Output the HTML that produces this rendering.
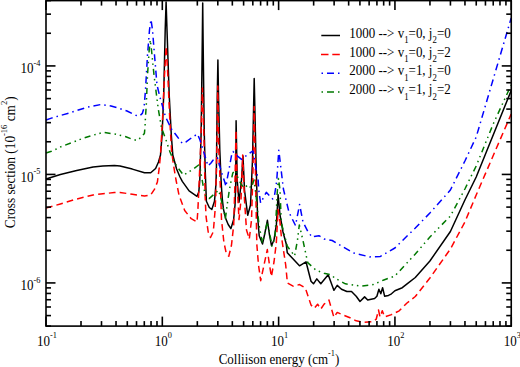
<!DOCTYPE html>
<html><head><meta charset="utf-8"><style>
html,body{margin:0;padding:0;background:#fff;}
body{width:520px;height:367px;overflow:hidden;font-family:"Liberation Serif",serif;}
svg{display:block;}
</style></head><body>
<svg width="520" height="367" viewBox="0 0 520 367">
<g fill="none" stroke-linejoin="round" stroke-width="1.5">
<polyline points="46.0,179.0 60.4,174.5 76.7,170.5 93.1,166.9 102.9,165.9 114.4,165.5 120.0,166.0 132.3,169.1 144.5,172.8 150.7,172.8 155.6,168.5 158.5,162.0 160.5,155.0 162.1,135.0 163.7,95.0 165.2,30.0 166.1,2.0 167.0,30.0 169.2,95.0 171.3,135.0 172.8,155.0 176.6,169.0 180.0,177.0 182.3,181.4 189.1,190.9 197.0,196.3 198.8,192.0 199.8,180.0 201.2,130.0 202.3,40.0 202.7,3.0 203.1,40.0 204.2,130.0 205.2,170.0 206.4,201.3 209.3,207.5 211.8,209.5 214.5,201.3 215.9,185.0 216.4,170.0 217.2,100.0 217.9,60.0 218.6,100.0 219.8,150.0 221.3,185.0 222.4,200.0 223.4,208.8 225.4,217.7 228.2,224.5 230.9,228.6 233.6,219.7 235.0,205.4 235.7,185.0 236.1,120.7 237.2,180.0 239.0,202.2 241.5,180.0 243.0,156.0 244.5,190.0 247.7,215.2 250.5,205.0 252.5,160.0 254.2,78.5 256.0,160.0 257.5,215.0 259.2,235.8 262.5,244.0 264.5,235.0 267.4,220.3 269.5,235.0 271.5,245.7 274.0,240.0 276.4,224.4 278.1,194.8 280.0,215.0 283.0,232.0 286.2,243.8 287.3,252.8 299.5,265.8 306.0,261.8 311.0,281.3 313.5,283.8 316.8,278.9 320.8,283.8 328.2,274.8 333.9,290.3 337.2,285.4 341.5,289.2 346.9,291.5 351.5,291.5 356.2,296.2 360.0,301.5 364.6,296.9 367.7,300.0 374.6,298.5 376.9,296.2 378.9,289.2 380.8,293.8 382.6,287.7 384.6,296.2 388.5,295.4 391.5,293.8 394.9,290.8 402.3,287.7 407.4,283.7 415.3,277.5 429.9,261.0 450.4,231.5 464.9,200.0 476.2,177.0 511.2,90.6" stroke="#000000"/>
<polyline points="46.0,208.1 60.4,204.0 76.7,199.0 93.1,195.0 102.9,193.7 114.4,192.6 120.0,192.4 132.3,194.3 144.5,196.1 150.7,194.9 154.4,189.4 157.4,182.0 159.3,167.3 160.5,155.0 162.5,120.0 164.5,75.0 166.2,46.5 167.8,75.0 169.8,120.0 171.5,150.0 173.5,165.0 176.0,180.0 179.0,195.0 184.7,210.5 191.2,218.7 197.0,222.0 197.8,211.3 198.6,195.0 200.5,150.0 202.4,88.0 204.3,150.0 205.1,195.0 206.0,216.2 208.4,233.4 210.5,237.5 213.3,231.8 215.0,211.3 215.8,195.0 216.8,150.0 217.8,86.0 218.8,150.0 220.7,195.0 221.5,219.5 223.9,242.4 226.4,253.8 228.8,256.2 231.5,245.0 233.7,225.0 235.0,180.0 236.0,130.0 237.0,180.0 239.0,219.6 241.0,200.0 242.7,155.0 244.5,200.0 246.5,230.0 249.3,239.0 251.5,220.0 253.0,170.0 254.2,106.5 255.4,170.0 256.8,244.0 258.5,265.0 260.7,280.7 264.0,265.0 267.3,249.6 269.5,265.0 271.4,276.6 274.0,262.0 276.3,243.0 278.1,209.5 280.0,222.0 281.2,235.0 285.7,265.0 287.4,283.0 293.1,286.2 299.6,284.6 305.3,287.9 311.0,305.0 314.3,308.3 317.6,304.2 320.8,309.1 324.1,304.2 329.0,300.1 333.9,317.3 337.2,312.4 342.3,314.6 350.0,317.7 356.2,320.8 363.8,322.3 373.1,321.5 376.2,319.2 378.5,310.0 380.0,316.9 382.3,310.8 384.6,316.9 391.5,314.6 394.9,313.0 399.2,310.8 407.0,303.0 415.3,296.5 429.9,278.0 450.4,249.0 464.9,222.0 476.2,195.0 511.2,114.0" stroke="#ff0000" stroke-dasharray="6.7 4.1"/>
<polyline points="46.0,120.0 51.4,118.1 68.5,113.2 86.9,107.3 101.0,104.5 111.0,106.0 119.6,108.5 127.0,111.0 135.6,115.2 139.5,116.2 142.3,113.4 144.0,108.0 145.5,90.0 147.5,55.0 149.5,30.0 151.0,19.5 152.5,30.0 154.5,55.0 157.0,85.0 159.9,97.0 165.6,117.0 171.9,129.9 175.7,134.5 182.3,143.4 186.4,141.7 192.9,136.8 197.5,134.0 199.9,139.8 204.0,152.9 208.0,166.0 211.0,163.0 213.0,160.2 217.5,157.8 220.4,168.4 222.2,174.5 224.7,181.8 226.0,186.5 227.1,179.4 229.0,169.6 231.4,156.1 233.0,151.5 237.5,156.1 241.6,159.4 245.7,156.1 250.7,152.3 253.0,151.0 254.5,160.0 256.4,171.0 258.1,179.2 258.7,189.6 260.6,203.0 266.3,192.3 272.7,199.0 274.5,195.6 276.7,181.0 278.8,150.3 283.4,189.0 289.0,212.3 295.5,225.5 299.6,204.5 303.0,222.0 308.3,232.4 312.4,237.3 314.2,236.4 318.9,235.7 324.0,238.9 332.2,240.5 353.4,252.9 369.8,256.9 380.4,256.4 394.9,248.0 415.3,228.0 429.9,213.0 450.4,190.0 464.9,161.0 476.2,137.0 511.2,18.0" stroke="#0000ff" stroke-dasharray="7 4 1.5 4"/>
<polyline points="46.0,153.0 51.4,151.3 61.8,146.4 74.7,141.5 83.3,138.2 95.5,134.5 103.5,132.3 116.0,134.3 125.9,136.7 131.3,138.9 136.8,140.5 140.6,137.8 144.4,133.4 145.0,127.4 145.5,116.5 146.3,105.0 147.5,75.0 149.2,50.0 150.3,40.0 151.5,50.0 154.0,75.0 156.5,95.0 158.3,109.2 161.5,127.7 166.0,140.0 170.0,152.0 173.0,159.3 176.8,166.4 183.6,175.2 187.7,172.5 193.2,169.1 198.6,165.0 200.5,170.0 203.0,185.0 206.0,197.0 209.1,198.6 215.2,193.2 218.6,190.4 220.7,197.3 224.1,212.2 225.4,218.4 227.5,202.7 229.5,189.1 230.9,182.0 232.7,173.3 235.0,170.0 238.0,178.0 241.0,184.0 244.1,188.0 248.2,184.7 251.0,188.0 254.0,180.0 256.0,195.0 259.0,225.0 262.4,243.1 265.0,232.0 267.4,222.0 270.0,235.0 272.0,246.0 275.0,238.0 277.3,191.5 278.5,178.4 280.0,190.0 281.3,222.6 287.3,246.2 294.6,256.0 297.5,240.0 299.3,225.0 301.0,232.0 302.8,239.7 307.7,262.6 315.8,270.0 324.0,273.2 331.4,274.8 334.6,278.0 345.4,283.8 360.8,286.2 373.1,284.6 383.8,280.0 394.9,276.0 415.3,254.0 429.9,237.0 450.4,216.0 464.9,189.0 476.2,166.0 493.2,124.0 511.2,85.0" stroke="#007800" stroke-dasharray="6 4 1.5 3.8 1.5 4"/>
</g>
<g stroke="#000" stroke-width="1.6" fill="none">
<rect x="46.0" y="0.6" width="465.25" height="325.5"/>
<line x1="46.00" y1="326.1" x2="46.00" y2="316.6"/>
<line x1="46.00" y1="0.6" x2="46.00" y2="10.1"/>
<line x1="81.01" y1="326.1" x2="81.01" y2="321.1"/>
<line x1="81.01" y1="0.6" x2="81.01" y2="5.6"/>
<line x1="101.50" y1="326.1" x2="101.50" y2="321.1"/>
<line x1="101.50" y1="0.6" x2="101.50" y2="5.6"/>
<line x1="116.03" y1="326.1" x2="116.03" y2="321.1"/>
<line x1="116.03" y1="0.6" x2="116.03" y2="5.6"/>
<line x1="127.30" y1="326.1" x2="127.30" y2="321.1"/>
<line x1="127.30" y1="0.6" x2="127.30" y2="5.6"/>
<line x1="136.51" y1="326.1" x2="136.51" y2="321.1"/>
<line x1="136.51" y1="0.6" x2="136.51" y2="5.6"/>
<line x1="144.30" y1="326.1" x2="144.30" y2="321.1"/>
<line x1="144.30" y1="0.6" x2="144.30" y2="5.6"/>
<line x1="151.04" y1="326.1" x2="151.04" y2="321.1"/>
<line x1="151.04" y1="0.6" x2="151.04" y2="5.6"/>
<line x1="156.99" y1="326.1" x2="156.99" y2="321.1"/>
<line x1="156.99" y1="0.6" x2="156.99" y2="5.6"/>
<line x1="162.31" y1="326.1" x2="162.31" y2="316.6"/>
<line x1="162.31" y1="0.6" x2="162.31" y2="10.1"/>
<line x1="197.33" y1="326.1" x2="197.33" y2="321.1"/>
<line x1="197.33" y1="0.6" x2="197.33" y2="5.6"/>
<line x1="217.81" y1="326.1" x2="217.81" y2="321.1"/>
<line x1="217.81" y1="0.6" x2="217.81" y2="5.6"/>
<line x1="232.34" y1="326.1" x2="232.34" y2="321.1"/>
<line x1="232.34" y1="0.6" x2="232.34" y2="5.6"/>
<line x1="243.61" y1="326.1" x2="243.61" y2="321.1"/>
<line x1="243.61" y1="0.6" x2="243.61" y2="5.6"/>
<line x1="252.82" y1="326.1" x2="252.82" y2="321.1"/>
<line x1="252.82" y1="0.6" x2="252.82" y2="5.6"/>
<line x1="260.61" y1="326.1" x2="260.61" y2="321.1"/>
<line x1="260.61" y1="0.6" x2="260.61" y2="5.6"/>
<line x1="267.35" y1="326.1" x2="267.35" y2="321.1"/>
<line x1="267.35" y1="0.6" x2="267.35" y2="5.6"/>
<line x1="273.30" y1="326.1" x2="273.30" y2="321.1"/>
<line x1="273.30" y1="0.6" x2="273.30" y2="5.6"/>
<line x1="278.62" y1="326.1" x2="278.62" y2="316.6"/>
<line x1="278.62" y1="0.6" x2="278.62" y2="10.1"/>
<line x1="313.64" y1="326.1" x2="313.64" y2="321.1"/>
<line x1="313.64" y1="0.6" x2="313.64" y2="5.6"/>
<line x1="334.12" y1="326.1" x2="334.12" y2="321.1"/>
<line x1="334.12" y1="0.6" x2="334.12" y2="5.6"/>
<line x1="348.65" y1="326.1" x2="348.65" y2="321.1"/>
<line x1="348.65" y1="0.6" x2="348.65" y2="5.6"/>
<line x1="359.92" y1="326.1" x2="359.92" y2="321.1"/>
<line x1="359.92" y1="0.6" x2="359.92" y2="5.6"/>
<line x1="369.13" y1="326.1" x2="369.13" y2="321.1"/>
<line x1="369.13" y1="0.6" x2="369.13" y2="5.6"/>
<line x1="376.92" y1="326.1" x2="376.92" y2="321.1"/>
<line x1="376.92" y1="0.6" x2="376.92" y2="5.6"/>
<line x1="383.67" y1="326.1" x2="383.67" y2="321.1"/>
<line x1="383.67" y1="0.6" x2="383.67" y2="5.6"/>
<line x1="389.62" y1="326.1" x2="389.62" y2="321.1"/>
<line x1="389.62" y1="0.6" x2="389.62" y2="5.6"/>
<line x1="394.94" y1="326.1" x2="394.94" y2="316.6"/>
<line x1="394.94" y1="0.6" x2="394.94" y2="10.1"/>
<line x1="429.95" y1="326.1" x2="429.95" y2="321.1"/>
<line x1="429.95" y1="0.6" x2="429.95" y2="5.6"/>
<line x1="450.43" y1="326.1" x2="450.43" y2="321.1"/>
<line x1="450.43" y1="0.6" x2="450.43" y2="5.6"/>
<line x1="464.96" y1="326.1" x2="464.96" y2="321.1"/>
<line x1="464.96" y1="0.6" x2="464.96" y2="5.6"/>
<line x1="476.24" y1="326.1" x2="476.24" y2="321.1"/>
<line x1="476.24" y1="0.6" x2="476.24" y2="5.6"/>
<line x1="485.45" y1="326.1" x2="485.45" y2="321.1"/>
<line x1="485.45" y1="0.6" x2="485.45" y2="5.6"/>
<line x1="493.23" y1="326.1" x2="493.23" y2="321.1"/>
<line x1="493.23" y1="0.6" x2="493.23" y2="5.6"/>
<line x1="499.98" y1="326.1" x2="499.98" y2="321.1"/>
<line x1="499.98" y1="0.6" x2="499.98" y2="5.6"/>
<line x1="505.93" y1="326.1" x2="505.93" y2="321.1"/>
<line x1="505.93" y1="0.6" x2="505.93" y2="5.6"/>
<line x1="511.25" y1="326.1" x2="511.25" y2="316.6"/>
<line x1="511.25" y1="0.6" x2="511.25" y2="10.1"/>
<line x1="46.0" y1="326.10" x2="51.0" y2="326.10"/>
<line x1="511.25" y1="326.10" x2="506.25" y2="326.10"/>
<line x1="46.0" y1="315.59" x2="51.0" y2="315.59"/>
<line x1="511.25" y1="315.59" x2="506.25" y2="315.59"/>
<line x1="46.0" y1="306.99" x2="51.0" y2="306.99"/>
<line x1="511.25" y1="306.99" x2="506.25" y2="306.99"/>
<line x1="46.0" y1="299.73" x2="51.0" y2="299.73"/>
<line x1="511.25" y1="299.73" x2="506.25" y2="299.73"/>
<line x1="46.0" y1="293.44" x2="51.0" y2="293.44"/>
<line x1="511.25" y1="293.44" x2="506.25" y2="293.44"/>
<line x1="46.0" y1="287.89" x2="51.0" y2="287.89"/>
<line x1="511.25" y1="287.89" x2="506.25" y2="287.89"/>
<line x1="46.0" y1="282.92" x2="55.5" y2="282.92"/>
<line x1="511.25" y1="282.92" x2="501.75" y2="282.92"/>
<line x1="46.0" y1="250.26" x2="51.0" y2="250.26"/>
<line x1="511.25" y1="250.26" x2="506.25" y2="250.26"/>
<line x1="46.0" y1="231.16" x2="51.0" y2="231.16"/>
<line x1="511.25" y1="231.16" x2="506.25" y2="231.16"/>
<line x1="46.0" y1="217.60" x2="51.0" y2="217.60"/>
<line x1="511.25" y1="217.60" x2="506.25" y2="217.60"/>
<line x1="46.0" y1="207.09" x2="51.0" y2="207.09"/>
<line x1="511.25" y1="207.09" x2="506.25" y2="207.09"/>
<line x1="46.0" y1="198.49" x2="51.0" y2="198.49"/>
<line x1="511.25" y1="198.49" x2="506.25" y2="198.49"/>
<line x1="46.0" y1="191.23" x2="51.0" y2="191.23"/>
<line x1="511.25" y1="191.23" x2="506.25" y2="191.23"/>
<line x1="46.0" y1="184.94" x2="51.0" y2="184.94"/>
<line x1="511.25" y1="184.94" x2="506.25" y2="184.94"/>
<line x1="46.0" y1="179.39" x2="51.0" y2="179.39"/>
<line x1="511.25" y1="179.39" x2="506.25" y2="179.39"/>
<line x1="46.0" y1="174.42" x2="55.5" y2="174.42"/>
<line x1="511.25" y1="174.42" x2="501.75" y2="174.42"/>
<line x1="46.0" y1="141.76" x2="51.0" y2="141.76"/>
<line x1="511.25" y1="141.76" x2="506.25" y2="141.76"/>
<line x1="46.0" y1="122.66" x2="51.0" y2="122.66"/>
<line x1="511.25" y1="122.66" x2="506.25" y2="122.66"/>
<line x1="46.0" y1="109.10" x2="51.0" y2="109.10"/>
<line x1="511.25" y1="109.10" x2="506.25" y2="109.10"/>
<line x1="46.0" y1="98.59" x2="51.0" y2="98.59"/>
<line x1="511.25" y1="98.59" x2="506.25" y2="98.59"/>
<line x1="46.0" y1="89.99" x2="51.0" y2="89.99"/>
<line x1="511.25" y1="89.99" x2="506.25" y2="89.99"/>
<line x1="46.0" y1="82.73" x2="51.0" y2="82.73"/>
<line x1="511.25" y1="82.73" x2="506.25" y2="82.73"/>
<line x1="46.0" y1="76.44" x2="51.0" y2="76.44"/>
<line x1="511.25" y1="76.44" x2="506.25" y2="76.44"/>
<line x1="46.0" y1="70.89" x2="51.0" y2="70.89"/>
<line x1="511.25" y1="70.89" x2="506.25" y2="70.89"/>
<line x1="46.0" y1="65.92" x2="55.5" y2="65.92"/>
<line x1="511.25" y1="65.92" x2="501.75" y2="65.92"/>
<line x1="46.0" y1="33.26" x2="51.0" y2="33.26"/>
<line x1="511.25" y1="33.26" x2="506.25" y2="33.26"/>
<line x1="46.0" y1="14.16" x2="51.0" y2="14.16"/>
<line x1="511.25" y1="14.16" x2="506.25" y2="14.16"/>
<line x1="46.0" y1="0.60" x2="51.0" y2="0.60"/>
<line x1="511.25" y1="0.60" x2="506.25" y2="0.60"/>
</g>
<g font-family="Liberation Serif" font-size="13.3" fill="#000">
<text transform="translate(47.00,345.90) scale(0.978,1.04)" text-anchor="middle">10<tspan dy="-7.5" font-size="8.5">-1</tspan></text>
<text transform="translate(163.31,345.90) scale(0.978,1.04)" text-anchor="middle">10<tspan dy="-7.5" font-size="8.5">0</tspan></text>
<text transform="translate(279.62,345.90) scale(0.978,1.04)" text-anchor="middle">10<tspan dy="-7.5" font-size="8.5">1</tspan></text>
<text transform="translate(395.94,345.90) scale(0.978,1.04)" text-anchor="middle">10<tspan dy="-7.5" font-size="8.5">2</tspan></text>
<text transform="translate(512.25,345.90) scale(0.978,1.04)" text-anchor="middle">10<tspan dy="-7.5" font-size="8.5">3</tspan></text>

<text transform="translate(40.40,73.32) scale(0.978,1.04)" text-anchor="end">10<tspan dy="-7.5" font-size="8.5">-4</tspan></text>
<text transform="translate(40.40,181.82) scale(0.978,1.04)" text-anchor="end">10<tspan dy="-7.5" font-size="8.5">-5</tspan></text>
<text transform="translate(40.40,290.32) scale(0.978,1.04)" text-anchor="end">10<tspan dy="-7.5" font-size="8.5">-6</tspan></text>

<text transform="translate(279.00,363.80) scale(0.978,1.04)" text-anchor="middle">Colliison energy (cm<tspan dy="-7.5" font-size="8.5">-1</tspan><tspan dy="7.5">)</tspan></text>
<text transform="translate(15.00,162.30) rotate(-90) scale(1.0,1.04)" text-anchor="middle">Cross section (10<tspan dy="-7.5" font-size="8.5">-16</tspan><tspan dy="7.5"> cm</tspan><tspan dy="-7.5" font-size="8.5">2</tspan><tspan dy="7.5">)</tspan></text>
</g>
<g stroke-width="1.5" fill="none">
<line x1="321.3" y1="35.5" x2="340" y2="35.5" stroke="#000"/>
<line x1="321" y1="54.4" x2="340" y2="54.4" stroke="#f00" stroke-dasharray="7.5 3.8"/>
<line x1="321.5" y1="73.3" x2="340" y2="73.3" stroke="#00f" stroke-dasharray="1.5 4 7 4 1.5"/>
<line x1="321.5" y1="92.1" x2="340" y2="92.1" stroke="#007800" stroke-dasharray="1.5 4 7 4 1.5"/>
</g>
<g font-family="Liberation Serif" font-size="13.3" fill="#000">
<text transform="translate(349.20,37.60) scale(0.978,1.04)" text-anchor="start">1000 --&gt; v<tspan dy="5" font-size="9">1</tspan><tspan dy="-5">=0, j</tspan><tspan dy="5" font-size="9">2</tspan><tspan dy="-5">=0</tspan></text><text transform="translate(349.20,56.50) scale(0.978,1.04)" text-anchor="start">1000 --&gt; v<tspan dy="5" font-size="9">1</tspan><tspan dy="-5">=0, j</tspan><tspan dy="5" font-size="9">2</tspan><tspan dy="-5">=2</tspan></text><text transform="translate(349.20,75.40) scale(0.978,1.04)" text-anchor="start">2000 --&gt; v<tspan dy="5" font-size="9">1</tspan><tspan dy="-5">=1, j</tspan><tspan dy="5" font-size="9">2</tspan><tspan dy="-5">=0</tspan></text><text transform="translate(349.20,94.30) scale(0.978,1.04)" text-anchor="start">2000 --&gt; v<tspan dy="5" font-size="9">1</tspan><tspan dy="-5">=1, j</tspan><tspan dy="5" font-size="9">2</tspan><tspan dy="-5">=2</tspan></text>
</g>
</svg>
</body></html>
